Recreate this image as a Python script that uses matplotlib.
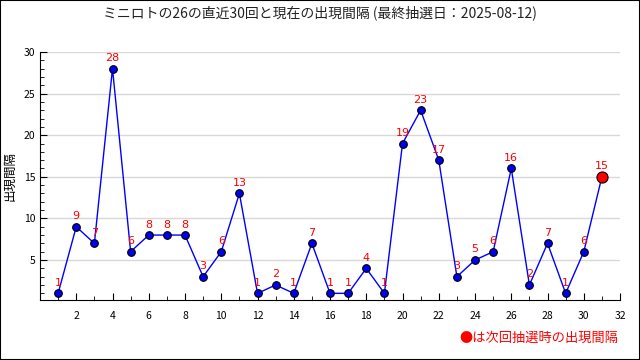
import matplotlib
matplotlib.use("Agg")
import matplotlib.pyplot as plt
from matplotlib.ticker import MultipleLocator
from matplotlib.patches import Rectangle

plt.rcParams['font.family'] = ['Noto Sans CJK JP', 'DejaVu Sans']

draws = list(range(1, 32))
gaps = [1, 9, 7, 28, 6, 8, 8, 8, 3, 6, 13, 1, 2, 1, 7, 1, 1, 4, 1, 19,
        23, 17, 3, 5, 6, 16, 2, 7, 1, 6, 15]
title = "ミニロトの26の直近30回と現在の出現間隔 (最終抽選日：2025-08-12)"
ylabel = "出現間隔"
note = "●は次回抽選時の出現間隔"

fig = plt.figure(figsize=(6.4, 3.6), dpi=100)
ax = fig.add_axes([0.0625, 0.1667, 0.9063, 0.689])

for y in range(5, 31, 5):
    ax.axhline(y, color="#d8d8d8", lw=1, zorder=0)

ax.plot(draws, gaps, color="#0000ff", lw=1, zorder=2)
ax.plot(draws[:-1], gaps[:-1], "o", ms=5.5, mfc="#0000ee", mec="black",
        mew=0.8, zorder=3)
ax.plot(draws[-1:], gaps[-1:], "o", ms=8, mfc="#ff0000", mec="black",
        mew=0.8, zorder=4)

for x, y in zip(draws, gaps):
    ax.annotate(str(y), (x, y), xytext=(0, 4), textcoords="offset points",
                ha="center", va="bottom", color="#ff0000", fontsize=8,
                family="DejaVu Sans")

ax.set_xlim(0, 32)
ax.set_ylim(0.2, 30)
ax.set_xticks(range(2, 33, 2))
ax.xaxis.set_minor_locator(MultipleLocator(1))
ax.set_yticks(range(5, 31, 5))
ax.yaxis.set_minor_locator(MultipleLocator(1))
ax.tick_params(which="both", direction="in", labelsize=7.5, colors="black")
ax.tick_params(which="major", length=5)
ax.tick_params(which="minor", length=3)
ax.tick_params(axis="x", pad=8)
for s in ["top", "right"]:
    ax.spines[s].set_visible(False)

ax.set_ylabel(ylabel, fontsize=9, va="center")
ax.yaxis.set_label_coords(-0.052, 0.5)
fig.text(0.5, 0.965, title, ha="center", va="center", fontsize=10, color="#222222")
fig.text(0.966, 0.06, note, ha="right", va="center", fontsize=9.5, color="#ff0000")

fig.patches.append(Rectangle((0, 0), 1, 1, transform=fig.transFigure,
                             fill=False, ec="black", lw=1.5))

fig.savefig("out.png", dpi=100)
